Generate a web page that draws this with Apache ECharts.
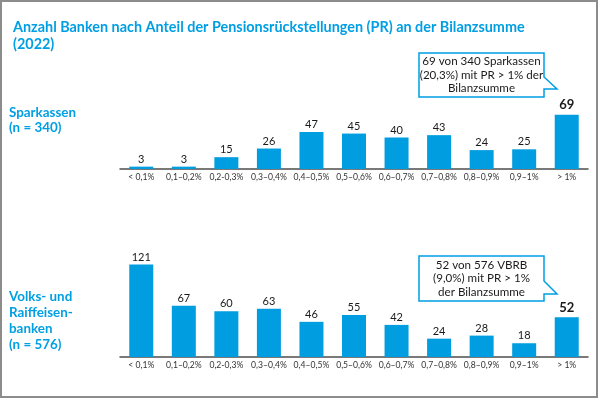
<!DOCTYPE html>
<html>
<head>
<meta charset="utf-8">
<script src="https://cdn.jsdelivr.net/npm/echarts@6/dist/echarts.min.js"></script>
<style>
html,body{margin:0;padding:0;background:#fff;}
#c{width:600px;height:399px;}
</style>
</head>
<body>
<div id="c"></div>
<script>
var categories = ['< 0,1%','0,1–0,2%','0,2-0,3%','0,3–0,4%','0,4–0,5%','0,5–0,6%','0,6–0,7%','0,7–0,8%','0,8–0,9%','0,9–1%','> 1%'];
var sparkassen = [3,3,15,26,47,45,40,43,24,25,69];
var vrb = [121,67,60,63,46,55,42,24,28,18,52];
var titleText = 'Anzahl Banken nach Anteil der Pensionsrückstellungen (PR) an der Bilanzsumme\n(2022)';
var groupLabels = ['Sparkassen\n(n = 340)', 'Volks- und\nRaiffeisen-\nbanken\n(n = 576)'];
var calloutTexts = ['69 von 340 Sparkassen\n(20,3%) mit PR > 1% der\nBilanzsumme', '52 von 576 VBRB\n(9,0%) mit PR > 1%\nder Bilanzsumme'];

var FONT = 'Lato';
var BLUE = '#009fe3';
var BAR = '#009ee0';

function seriesData(arr){
  return arr.map(function(v,i){
    if(i === arr.length-1){
      return {value:v, label:{fontWeight:'bold', fontSize:13, distance:3}};
    }
    return v;
  });
}

function xAxisDef(idx){
  return {
    type:'category', gridIndex:idx, data:categories,
    axisTick:{show:false},
    axisLine:{lineStyle:{color:'#4d4d4d', width:1.5}},
    axisLabel:{fontSize:8.6, color:'#333', margin:4, fontFamily:FONT, interval:0}
  };
}
function yAxisDef(idx, max){
  return {type:'value', gridIndex:idx, min:0, max:max, show:false, splitLine:{show:false}};
}
function barSeries(idx, arr){
  return {
    type:'bar', xAxisIndex:idx, yAxisIndex:idx, data:seriesData(arr),
    barWidth:24, itemStyle:{color:BAR},
    label:{show:true, position:'top', distance:2, fontSize:11, color:'#1a1a1a', fontFamily:FONT}
  };
}

function callout(yTop, yTail, yTailBottom, yBottom, text){
  return [{
    type:'polygon',
    shape:{points:[[419,yTop],[544,yTop],[544,yTail],[557,yTailBottom],[544,yTailBottom],[544,yBottom],[419,yBottom]]},
    style:{fill:'#fff', stroke:BLUE, lineWidth:1.5},
    z:10
  },{
    type:'text', x:481.5, y:(yTop+yBottom)/2,
    style:{text:text, fontSize:11.6, fontFamily:FONT, fill:'#1a1a1a', align:'center', verticalAlign:'middle', lineHeight:13.5},
    z:11
  }];
}

var chart = echarts.init(document.getElementById('c'), null, {renderer:'canvas'});
chart.setOption({
  animation:false,
  backgroundColor:'#fff',
  title:{
    text:titleText, left:8, top:14,
    textStyle:{color:BLUE, fontSize:14.4, fontWeight:'bold', fontFamily:FONT, lineHeight:17}
  },
  grid:[
    {left:120, right:12, top:106, height:63},
    {left:120, right:12, top:250, height:107}
  ],
  xAxis:[xAxisDef(0), xAxisDef(1)],
  yAxis:[yAxisDef(0,80), yAxisDef(1,140)],
  series:[barSeries(0, sparkassen), barSeries(1, vrb)],
  graphic:[
    {type:'rect', shape:{x:1, y:1, width:596, height:396}, style:{fill:'none', stroke:'#8c8c8c', lineWidth:2}, z:20},
    {type:'text', x:9, y:105, style:{text:groupLabels[0], fontSize:13.4, fontWeight:'bold', fontFamily:FONT, fill:BLUE, lineHeight:15}},
    {type:'text', x:9, y:289, style:{text:groupLabels[1], fontSize:13.4, fontWeight:'bold', fontFamily:FONT, fill:BLUE, lineHeight:16}}
  ].concat(callout(53,77,89,97,calloutTexts[0])).concat(callout(256,281,294,301,calloutTexts[1]))
});
</script>
</body>
</html>
